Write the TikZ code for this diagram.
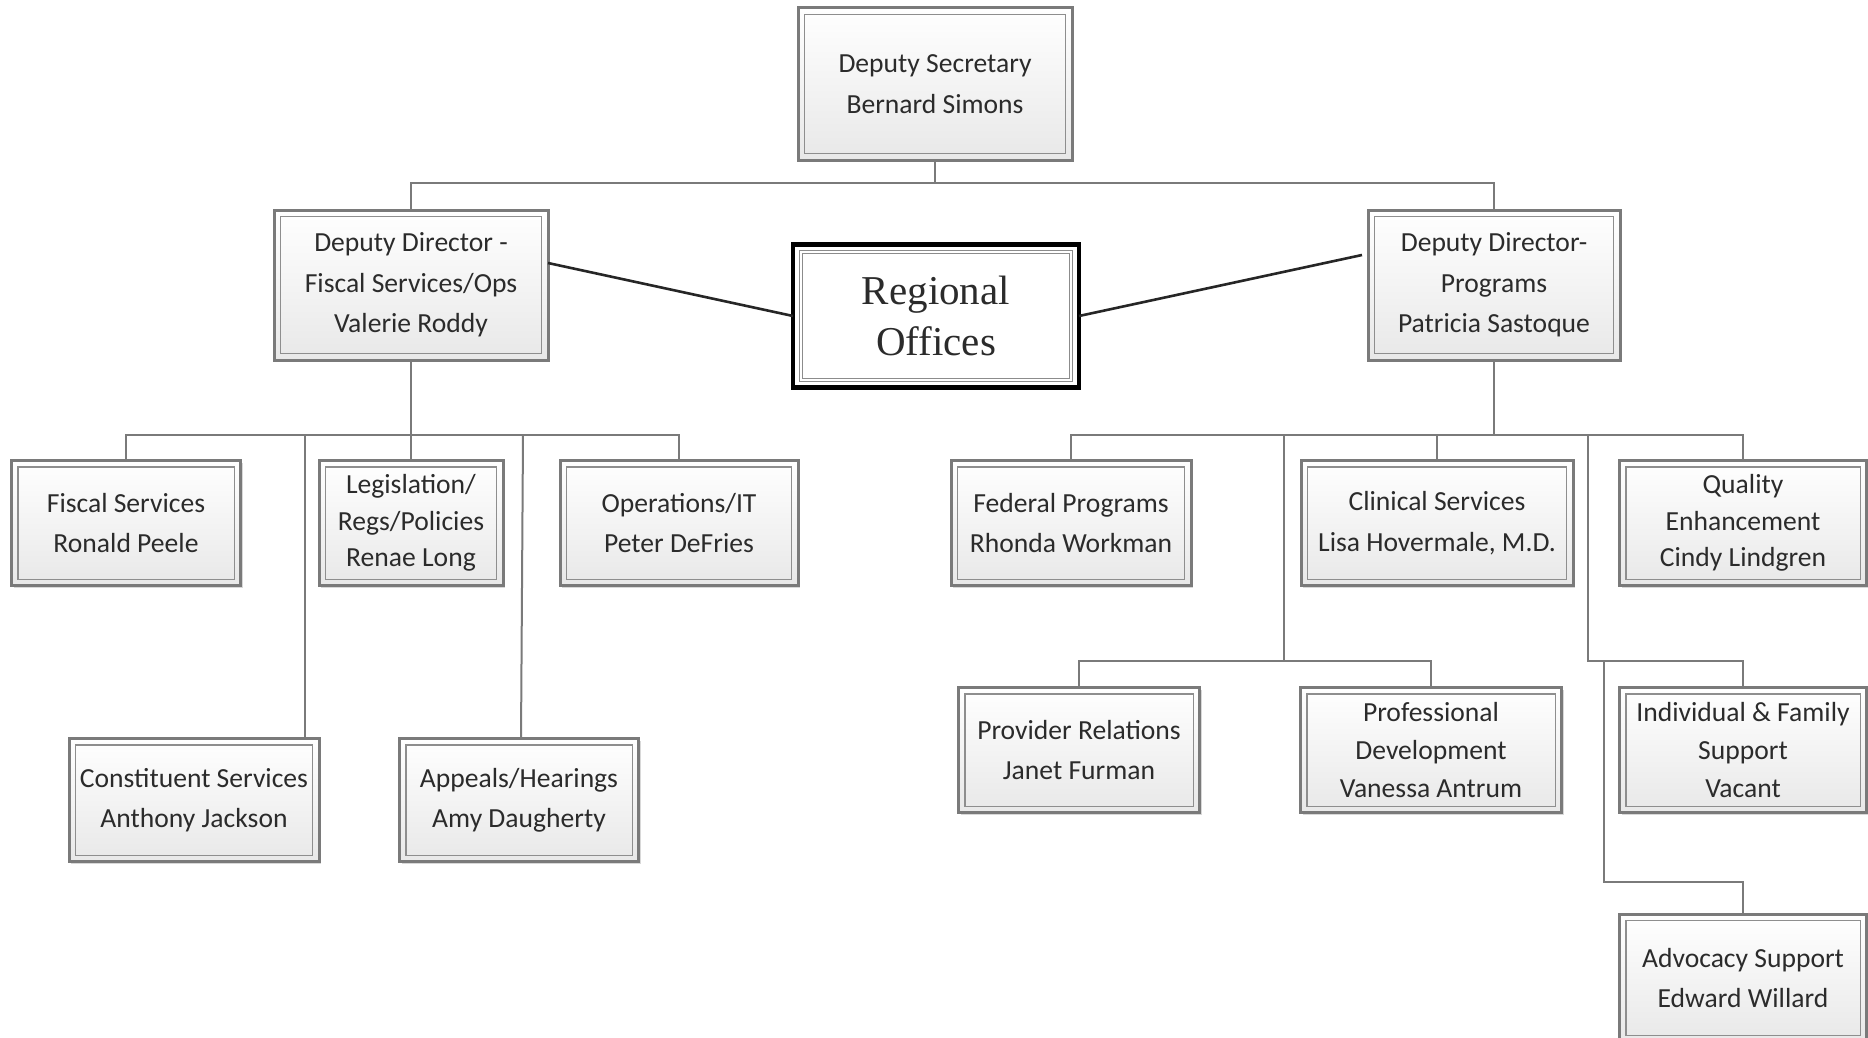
\documentclass[tikz,border=0pt]{standalone}
\usepackage{fontspec}
\setmainfont{Carlito}
\newfontfamily\roserif{Liberation Serif}
\usetikzlibrary{calc,shadows}
\definecolor{txt}{HTML}{2B2B2B}
\definecolor{edge}{HTML}{7A7A7A}
\tikzset{
  orgbox/.style={draw=edge, line width=1.5pt, top color=white, bottom color=black!9,
    align=center, text=txt, inner sep=0pt, outer sep=0pt,
    font=\fontsize{13.8}{20.2}\selectfont,
    drop shadow={shadow xshift=1.2pt, shadow yshift=-1.2pt, opacity=0.25, fill=black!60}},
  tight/.style={font=\fontsize{13.8}{18.3}\selectfont},
  semitight/.style={font=\fontsize{13.8}{18.8}\selectfont},
  innerline/.style={draw=edge!85, line width=0.6pt},
  conn/.style={draw=edge, line width=1pt},
  roconn/.style={draw=black!85, line width=1.3pt},
  robox/.style={draw=black, line width=2.4pt, fill=white, align=center, text=txt,
    inner sep=0pt, outer sep=0pt, font=\roserif\fontsize{20.5}{25.6}\selectfont}
}
\begin{document}
\begin{tikzpicture}[x=0.5pt,y=-0.5pt]
\useasboundingbox[fill=white] (0,0) rectangle (1868,1038);
\clip (0,0) rectangle (1868,1038);
% nodes
\node[orgbox, minimum width=137pt, minimum height=76pt] (ds) at (935,84) {Deputy Secretary\\Bernard Simons};
\node[orgbox, minimum width=137pt, minimum height=75pt] (ddf) at (411,285) {Deputy Director -\\Fiscal Services/Ops\\Valerie Roddy};
\node[robox, minimum width=143pt, minimum height=71.5pt] (ro) at (936,316) {Regional\\Offices};
\node[orgbox, minimum width=126pt, minimum height=75pt] (ddp) at (1494,285) {Deputy Director-\\Programs\\Patricia Sastoque};
\node[orgbox, minimum width=114.5pt, minimum height=62.5pt] (fs) at (126,523) {Fiscal Services\\Ronald Peele};
\node[orgbox, tight, minimum width=92pt, minimum height=62.5pt] (leg) at (411,523) {Legislation/\\Regs/Policies\\Renae Long};
\node[orgbox, minimum width=119pt, minimum height=62.5pt] (ops) at (679,523) {Operations/IT\\Peter DeFries};
\node[orgbox, minimum width=125pt, minimum height=61.5pt] (cs) at (194,800) {Constituent Services\\Anthony Jackson};
\node[orgbox, minimum width=119.5pt, minimum height=61.5pt] (ah) at (519,800) {Appeals/Hearings\\Amy Daugherty};
\node[orgbox, minimum width=120pt, minimum height=62.5pt] (fp) at (1071,523) {Federal Programs\\Rhonda Workman};
\node[orgbox, minimum width=136pt, minimum height=62.5pt] (cl) at (1437,523) {Clinical Services\\Lisa Hovermale, M.D.};
\node[orgbox, tight, minimum width=123.5pt, minimum height=62.5pt] (qe) at (1743,523) {Quality\\Enhancement\\Cindy Lindgren};
\node[orgbox, minimum width=120.5pt, minimum height=62.5pt] (pr) at (1079,750) {Provider Relations\\Janet Furman};
\node[orgbox, semitight, minimum width=130.5pt, minimum height=62.5pt] (pd) at (1431,750) {Professional\\Development\\Vanessa Antrum};
\node[orgbox, semitight, minimum width=123.5pt, minimum height=62.5pt] (if) at (1743,750) {Individual \& Family\\Support\\Vacant};
\node[orgbox, minimum width=123.5pt, minimum height=64pt] (adv) at (1743,978) {Advocacy Support\\Edward Willard};
% inner frame lines
\foreach \n in {ds,ddf,ddp,fs,leg,ops,cs,ah,fp,cl,qe,pr,pd,if,adv}
  \draw[innerline] ([shift={(3.2pt,-3.2pt)}]\n.north west) rectangle ([shift={(-3.2pt,3.2pt)}]\n.south east);
\draw[draw=black!45, line width=0.5pt] ([shift={(3.2pt,-3.2pt)}]ro.north west) rectangle ([shift={(-3.2pt,3.2pt)}]ro.south east);
\draw[draw=black!45, line width=0.5pt] ([shift={(4.6pt,-4.6pt)}]ro.north west) rectangle ([shift={(-4.6pt,4.6pt)}]ro.south east);
% top connectors
\coordinate (topbus) at (935,183);
\draw[conn] (ds.south) -- (topbus);
\draw[conn] (ddf.north) |- (topbus) -| (ddp.north);
% regional offices links
\draw[roconn] ($(ddf.east)+(0,-22)$) -- (ro.west);
\draw[roconn] (ro.east) -- ($(ddp.west)+(-6,-30)$);
% left branch
\coordinate (lb) at (411,435);
\draw[conn] (ddf.south) -- (leg.north);
\draw[conn] (fs.north) |- (lb) -| (ops.north);
\coordinate (lc1) at (305,435);
\draw[conn] (lc1) -- (lc1 |- cs.north);
\coordinate (la1) at (523,435);
\coordinate (la2) at (521,739);
\draw[conn] (la1) -- (la2);
% right branch
\coordinate (rb) at (1494,435);
\draw[conn] (ddp.south) -- (rb);
\draw[conn] (fp.north) |- (rb) -| (qe.north);
\draw[conn] (cl.north) -- (cl.north |- rb);
\coordinate (rc1) at (1284,435);
\coordinate (rc2) at (1284,661);
\draw[conn] (rc1) -- (rc2);
\draw[conn] (pr.north) |- (rc2) -| (pd.north);
\coordinate (rd1) at (1588,435);
\coordinate (rd2) at (1588,661);
\draw[conn] (rd1) -- (rd2) -| (if.north);
\coordinate (re1) at (1604,661);
\coordinate (re2) at (1604,882);
\draw[conn] (re1) -- (re2) -| (adv.north);
\end{tikzpicture}
\end{document}
